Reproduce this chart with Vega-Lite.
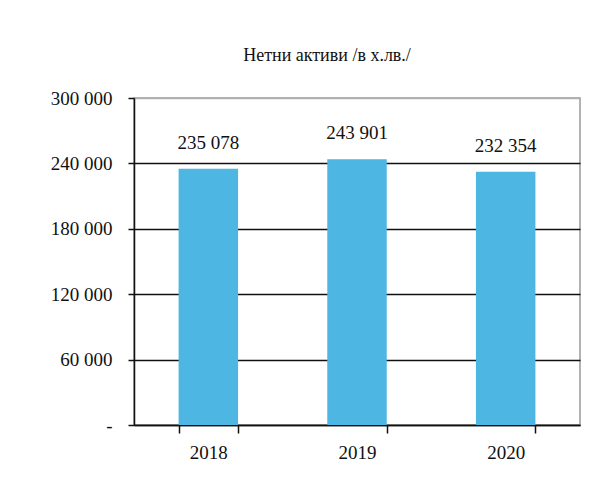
{
  "$schema": "https://vega.github.io/schema/vega-lite/v6.json",
  "width": 446,
  "height": 327,
  "autosize": {"type": "none"},
  "padding": {"left": 134, "top": 98, "right": 28, "bottom": 53},
  "background": "white",
  "title": {
    "text": "Нетни активи /в х.лв./",
    "font": "Liberation Serif",
    "fontSize": 18,
    "fontWeight": "normal",
    "color": "#111111",
    "anchor": "middle",
    "dx": -30,
    "offset": 24
  },
  "config": {
    "locale": {"number": {"decimal": ",", "thousands": " ", "grouping": [3], "currency": ["", ""]}},
    "view": {"stroke": "#9a9a9a", "strokeWidth": 1.5},
    "font": "Liberation Serif"
  },
  "data": {
    "values": [
      {"year": "2018", "value": 235078},
      {"year": "2019", "value": 243901},
      {"year": "2020", "value": 232354}
    ]
  },
  "encoding": {
    "x": {
      "field": "year",
      "type": "nominal",
      "scale": {"paddingInner": 0.6, "paddingOuter": 0.3},
      "axis": {
        "title": null,
        "labelAngle": 0,
        "labelFont": "Liberation Serif",
        "labelFontSize": 19,
        "labelColor": "#111111",
        "labelPadding": 10,
        "tickBand": "extent",
        "tickSize": 8,
        "tickColor": "#111111",
        "tickWidth": 1.5,
        "domainColor": "#111111",
        "domainWidth": 1.5
      }
    },
    "y": {
      "field": "value",
      "type": "quantitative",
      "scale": {"domain": [0, 300000], "nice": false},
      "axis": {
        "title": null,
        "values": [0, 60000, 120000, 180000, 240000, 300000],
        "format": ",d",
        "labelExpr": "datum.value == 0 ? '-' : datum.label",
        "labelFont": "Liberation Serif",
        "labelFontSize": 19,
        "labelColor": "#111111",
        "labelPadding": 16,
        "tickSize": 6,
        "tickColor": "#111111",
        "tickWidth": 1.5,
        "domainColor": "#111111",
        "domainWidth": 1.5,
        "grid": true,
        "gridColor": {"condition": {"test": "datum.value == 300000", "value": "#b0b0b0"}, "value": "#111111"},
        "gridWidth": 1.5
      }
    }
  },
  "layer": [
    {
      "mark": {"type": "bar", "color": "#4EB6E2"}
    },
    {
      "mark": {
        "type": "text",
        "baseline": "alphabetic",
        "dy": -20,
        "font": "Liberation Serif",
        "fontSize": 19,
        "color": "#111111"
      },
      "encoding": {
        "text": {"field": "value", "type": "quantitative", "format": ",d"}
      }
    }
  ]
}
